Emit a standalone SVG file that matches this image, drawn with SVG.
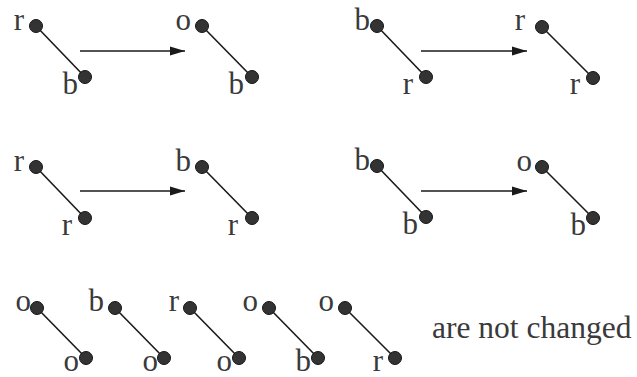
<svg xmlns="http://www.w3.org/2000/svg" width="637" height="377" viewBox="0 0 637 377">
<style>
.lbl{font-family:"Liberation Serif","Times New Roman",serif;font-size:31px;fill:#3a3a3a;text-anchor:end}
.nd{fill:#333;stroke:#151515;stroke-width:1}
.ed{stroke:#1a1a1a;stroke-width:1.6;fill:none}
.ar{stroke:#1a1a1a;stroke-width:1.6;fill:none}
.txt{font-family:"Liberation Serif","Times New Roman",serif;font-size:31.5px;fill:#3a3a3a}
</style>
<defs>
<marker id="ah" markerWidth="16" markerHeight="10" refX="15" refY="5" orient="auto" markerUnits="userSpaceOnUse">
<path d="M0,0.5 L15,5 L0,9.5 Z" fill="#1a1a1a"/>
</marker>
</defs>
<g id="connectors">
<line class="ar" x1="80" y1="51" x2="185" y2="51" marker-end="url(#ah)"/>
<line class="ar" x1="421" y1="51" x2="527" y2="51" marker-end="url(#ah)"/>
<line class="ar" x1="80" y1="191" x2="185" y2="191" marker-end="url(#ah)"/>
<line class="ar" x1="421" y1="191" x2="527" y2="191" marker-end="url(#ah)"/>
<line class="ed" x1="36" y1="26" x2="85" y2="77"/>
<line class="ed" x1="202" y1="26" x2="252" y2="77"/>
<line class="ed" x1="377" y1="26" x2="426" y2="77"/>
<line class="ed" x1="542" y1="27" x2="593" y2="78"/>
<line class="ed" x1="36" y1="167" x2="85" y2="218"/>
<line class="ed" x1="202" y1="167" x2="252" y2="218"/>
<line class="ed" x1="377" y1="166" x2="426" y2="217"/>
<line class="ed" x1="542" y1="167" x2="593" y2="218"/>
<line class="ed" x1="37" y1="308" x2="86" y2="358"/>
<line class="ed" x1="115" y1="308" x2="164" y2="358"/>
<line class="ed" x1="190" y1="308" x2="239" y2="358"/>
<line class="ed" x1="269" y1="308" x2="318" y2="358"/>
<line class="ed" x1="345" y1="308" x2="395" y2="358"/>
</g>
<g id="r1a">
<circle class="nd" cx="36" cy="26" r="6.5"/><circle class="nd" cx="85" cy="77" r="6.5"/>
<text class="lbl" x="24" y="30">r</text><text class="lbl" x="78" y="94">b</text>
</g>
<g id="r1b">
<circle class="nd" cx="202" cy="26" r="6.5"/><circle class="nd" cx="252" cy="77" r="6.5"/>
<text class="lbl" x="191" y="30">o</text><text class="lbl" x="244" y="94">b</text>
</g>
<g id="r1c">
<circle class="nd" cx="377" cy="26" r="6.5"/><circle class="nd" cx="426" cy="77" r="6.5"/>
<text class="lbl" x="370" y="30">b</text><text class="lbl" x="413" y="94">r</text>
</g>
<g id="r1d">
<circle class="nd" cx="542" cy="27" r="6.5"/><circle class="nd" cx="593" cy="78" r="6.5"/>
<text class="lbl" x="525" y="30">r</text><text class="lbl" x="580" y="94">r</text>
</g>
<g id="r2a">
<circle class="nd" cx="36" cy="167" r="6.5"/><circle class="nd" cx="85" cy="218" r="6.5"/>
<text class="lbl" x="24" y="171">r</text><text class="lbl" x="72" y="235">r</text>
</g>
<g id="r2b">
<circle class="nd" cx="202" cy="167" r="6.5"/><circle class="nd" cx="252" cy="218" r="6.5"/>
<text class="lbl" x="191" y="171">b</text><text class="lbl" x="238" y="235">r</text>
</g>
<g id="r2c">
<circle class="nd" cx="377" cy="166" r="6.5"/><circle class="nd" cx="426" cy="217" r="6.5"/>
<text class="lbl" x="370" y="170">b</text><text class="lbl" x="418" y="234">b</text>
</g>
<g id="r2d">
<circle class="nd" cx="542" cy="167" r="6.5"/><circle class="nd" cx="593" cy="218" r="6.5"/>
<text class="lbl" x="532" y="171">o</text><text class="lbl" x="586" y="235">b</text>
</g>
<g id="r3a">
<circle class="nd" cx="37" cy="308" r="6.5"/><circle class="nd" cx="86" cy="358" r="6.5"/>
<text class="lbl" x="31" y="311">o</text><text class="lbl" x="79" y="371">o</text>
</g>
<g id="r3b">
<circle class="nd" cx="115" cy="308" r="6.5"/><circle class="nd" cx="164" cy="358" r="6.5"/>
<text class="lbl" x="104" y="311">b</text><text class="lbl" x="158" y="371">o</text>
</g>
<g id="r3c">
<circle class="nd" cx="190" cy="308" r="6.5"/><circle class="nd" cx="239" cy="358" r="6.5"/>
<text class="lbl" x="179" y="311">r</text><text class="lbl" x="232" y="371">o</text>
</g>
<g id="r3d">
<circle class="nd" cx="269" cy="308" r="6.5"/><circle class="nd" cx="318" cy="358" r="6.5"/>
<text class="lbl" x="258" y="311">o</text><text class="lbl" x="311" y="371">b</text>
</g>
<g id="r3e">
<circle class="nd" cx="345" cy="308" r="6.5"/><circle class="nd" cx="395" cy="358" r="6.5"/>
<text class="lbl" x="334" y="311">o</text><text class="lbl" x="383" y="371">r</text>
</g>
<g id="note">
<text class="txt" x="432" y="338">are not changed</text>
</g>
</svg>
